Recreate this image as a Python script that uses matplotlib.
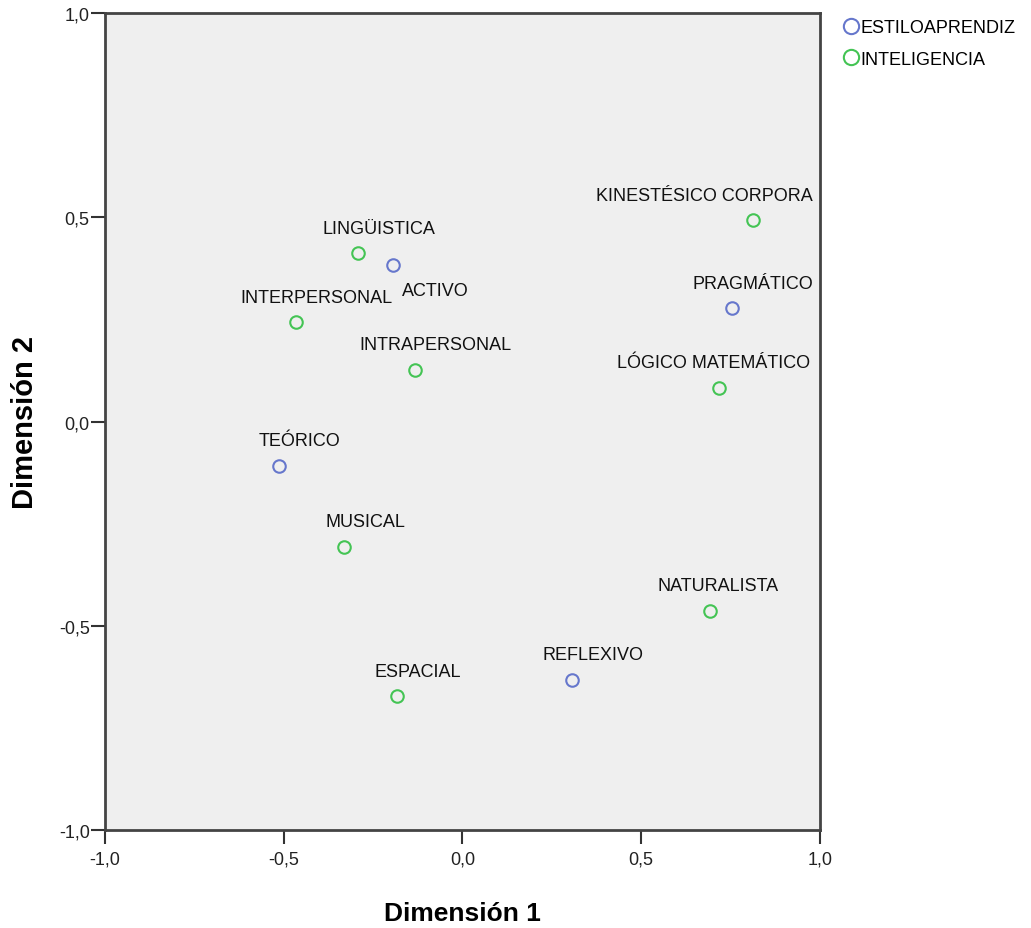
import matplotlib
matplotlib.use("Agg")
import matplotlib.pyplot as plt
from matplotlib.lines import Line2D

estilo_names = ["ACTIVO", "PRAGMÁTICO", "TEÓRICO", "REFLEXIVO"]
estilo_x = [-0.193, 0.754, -0.514, 0.307]
estilo_y = [0.382, 0.277, -0.108, -0.632]

intel_names = ["LINGÜISTICA", "INTERPERSONAL", "INTRAPERSONAL", "KINESTÉSICO CORPORA",
               "LÓGICO MATEMÁTICO", "MUSICAL", "NATURALISTA", "ESPACIAL"]
intel_x = [-0.293, -0.466, -0.134, 0.813, 0.718, -0.330, 0.693, -0.184]
intel_y = [0.412, 0.243, 0.127, 0.493, 0.083, -0.306, -0.463, -0.672]

ticks = [-1.0, -0.5, 0.0, 0.5, 1.0]
tick_labels = ["-1,0", "-0,5", "0,0", "0,5", "1,0"]

blue = "#6677cc"
green = "#44c454"
label_font = ["Liberation Sans", "DejaVu Sans"]
narrow_font = ["Liberation Sans Narrow", "Liberation Sans", "DejaVu Sans"]

# label offsets in points (SPSS puts labels above-right, a few are moved)
offsets = {"ACTIVO": (30, -18), "KINESTÉSICO CORPORA": (-35, 18),
           "LÓGICO MATEMÁTICO": (-4, 18), "NATURALISTA": (6, 18)}
default_off = (15, 18)

fig = plt.figure(figsize=(10.31, 9.29), dpi=100)
ax = fig.add_axes([0.1018, 0.1055, 0.6935, 0.8794])
ax.set_facecolor("#efefef")

marker_kw = dict(ls="", marker="o", ms=9, mfc="none", mew=1.5)
ax.plot(estilo_x, estilo_y, mec=blue, **marker_kw)
ax.plot(intel_x, intel_y, mec=green, **marker_kw)

for names, xs, ys in [(estilo_names, estilo_x, estilo_y),
                      (intel_names, intel_x, intel_y)]:
    for n, x, y in zip(names, xs, ys):
        ax.annotate(n, (x, y), xytext=offsets.get(n, default_off),
                    textcoords="offset points", ha="center", va="center",
                    fontsize=13, family=label_font, color="#111111")

ax.set_xlim(-1, 1)
ax.set_ylim(-1, 1)
ax.set_xticks(ticks)
ax.set_xticklabels(tick_labels, family=narrow_font, fontsize=13)
ax.set_yticks(ticks)
ax.set_yticklabels(tick_labels, family=narrow_font, fontsize=13)
ax.tick_params(length=10, width=1.5, color="#333333", labelcolor="#222222")
ax.tick_params(axis="x", pad=5)
ax.tick_params(axis="y", pad=1)
for s in ax.spines.values():
    s.set_linewidth(2)
    s.set_color("#444444")

ax.set_xlabel("Dimensión 1", fontsize=19, fontweight="bold",
              family=narrow_font, labelpad=24)
ax.set_ylabel("Dimensión 2", fontsize=21, fontweight="bold",
              family=label_font, labelpad=14)

leg_kw = dict(marker_kw, ms=11)
handles = [Line2D([], [], mec=blue, **leg_kw),
           Line2D([], [], mec=green, **leg_kw)]
fig.legend(handles, ["ESTILOAPRENDIZ", "INTELIGENCIA"], loc="upper left",
           bbox_to_anchor=(0.812, 0.986), frameon=False, handlelength=0.7,
           handletextpad=0.2, labelspacing=0.8, borderaxespad=0,
           prop={"family": label_font, "size": 13})

fig.savefig("out.png", dpi=100)
